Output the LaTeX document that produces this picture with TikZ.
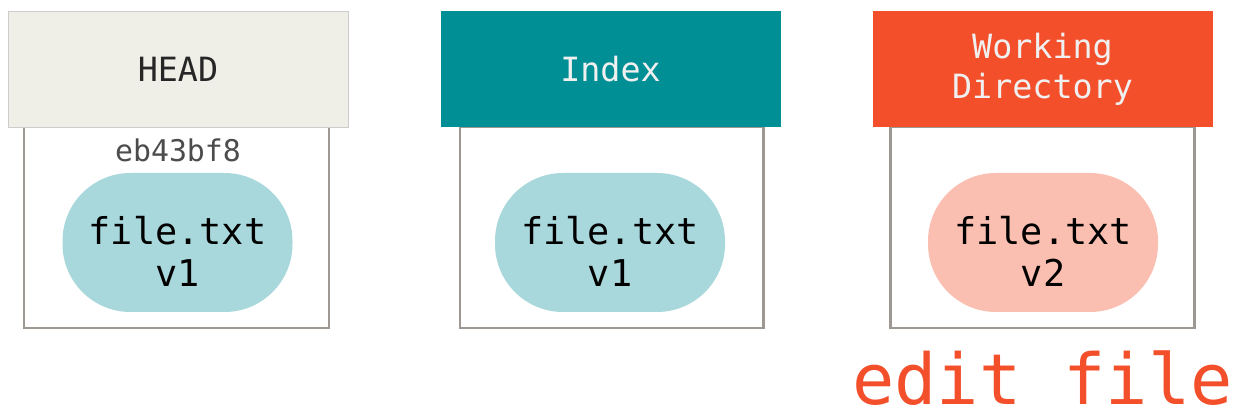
\documentclass[tikz,border=0pt]{standalone}
\usepackage{fontspec}
\setmonofont{DejaVu Sans Mono}
\definecolor{headgray}{RGB}{239,239,232}
\definecolor{indexteal}{RGB}{0,143,149}
\definecolor{wdred}{RGB}{243,79,42}
\definecolor{boxgray}{RGB}{158,152,146}
\definecolor{fileblue}{RGB}{168,216,220}
\definecolor{filepink}{RGB}{251,191,178}
\newlength{\pxu}\setlength{\pxu}{0.02cm}
\tikzset{
  header/.style={minimum width=340\pxu, minimum height=116\pxu, inner sep=0pt,
    align=center, font=\ttfamily\fontsize{19}{23}\selectfont},
  area/.style={draw=boxgray, line width=1.7pt},
  blob/.style={minimum width=230\pxu, minimum height=139\pxu, inner sep=0pt,
    rounded corners=68\pxu},
  filetext/.style={align=center, inner sep=0pt, font=\ttfamily\fontsize{21}{24}\selectfont}
}
\begin{document}
\begin{tikzpicture}[x=0.02cm, y=-0.02cm]
\useasboundingbox (0,0) rectangle (1241,415);
% the three areas
\draw[area] (24,127) rectangle (329,328);
\draw[area] (460,127) rectangle (763,328);
\draw[area] (890,127) rectangle (1194,328);
% headers
\node[header, fill=headgray, draw=black!20, line width=0.5pt, text=black!85] (head) at (178,69) {HEAD};
\node[header, fill=indexteal, text=white!94!black] (index) at (610.5,69) {Index};
\node[header, fill=wdred, text=white!94!black] (workdir) at (1042.5,69) {Working\\Directory};
% commit id
\node[font=\ttfamily\fontsize{17}{20}\selectfont, text=black!70] (commit) at (178,150) {eb43bf8};
% files
\node[blob, fill=fileblue] (headfile) at (177.5,242.5) {};
\node[blob, fill=fileblue] (indexfile) at (610,242.5) {};
\node[blob, fill=filepink] (wdfile) at (1043,242.5) {};
\node[filetext] (headfiletext) at (177.5,251) {file.txt\\v1};
\node[filetext] (indexfiletext) at (610,251) {file.txt\\v1};
\node[filetext] (wdfiletext) at (1043,251) {file.txt\\v2};
% action
\node[anchor=base, inner sep=0pt, font=\ttfamily\fontsize{40}{46}\selectfont, text=wdred] (action) at (1042.5,404) {edit file};
\end{tikzpicture}
\end{document}
